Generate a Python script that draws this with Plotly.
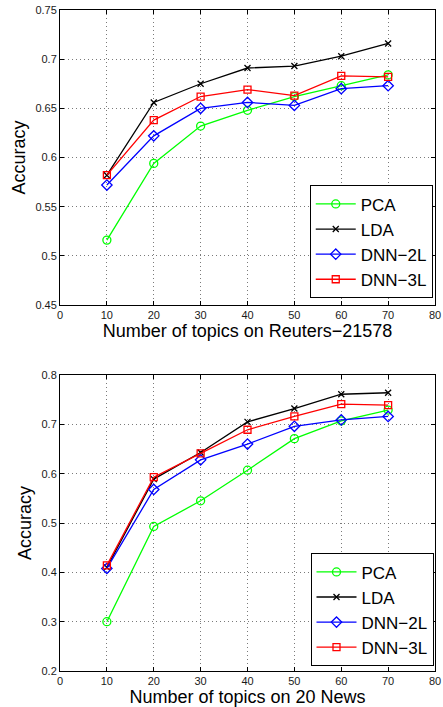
import plotly.graph_objects as go
from plotly.subplots import make_subplots

topics = [10, 20, 30, 40, 50, 60, 70]

# Reuters-21578
reu_pca = [0.516, 0.594, 0.632, 0.648, 0.662, 0.673, 0.684]
reu_lda = [0.582, 0.656, 0.675, 0.691, 0.693, 0.703, 0.716]
reu_dnn2 = [0.572, 0.622, 0.650, 0.656, 0.653, 0.670, 0.673]
reu_dnn3 = [0.582, 0.638, 0.662, 0.669, 0.663, 0.683, 0.682]

# 20 News
news_pca = [0.300, 0.493, 0.545, 0.607, 0.671, 0.707, 0.729]
news_lda = [0.410, 0.589, 0.643, 0.705, 0.732, 0.761, 0.764]
news_dnn2 = [0.408, 0.568, 0.628, 0.660, 0.696, 0.709, 0.716]
news_dnn3 = [0.414, 0.593, 0.641, 0.689, 0.716, 0.741, 0.739]

names = ["PCA", "LDA", "DNN\u22122L", "DNN\u22123L"]
colors = ["#00ff00", "#000000", "#0000ff", "#ff0000"]
symbols = ["circle-open", "x-thin-open", "diamond-open", "square-open"]
sizes = [8, 6, 8, 7]

fig = make_subplots(rows=2, cols=1, vertical_spacing=0.1059)

for row, series, leg in [(1, [reu_pca, reu_lda, reu_dnn2, reu_dnn3], "legend"),
                         (2, [news_pca, news_lda, news_dnn2, news_dnn3], "legend2")]:
    for name, col, sym, sz, ys in zip(names, colors, symbols, sizes, series):
        fig.add_trace(go.Scatter(
            x=topics, y=ys, name=name, mode="lines+markers",
            line=dict(color=col, width=1.3),
            marker=dict(symbol=sym, size=sz, color=col, line=dict(color=col, width=1.3)),
            legend=leg,
        ), row=row, col=1)

font_family = "Liberation Sans, Arial"
axis_common = dict(
    showline=True, linecolor="black", linewidth=1, mirror="ticks",
    ticks="inside", ticklen=4, tickcolor="black",
    showgrid=True, gridcolor="#7a7a7a", griddash="1px,3px", gridwidth=1,
    zeroline=False, tickfont=dict(family=font_family, size=11, color="#1a1a1a"),
    ticklabeloverflow="allow", automargin=False,
)

fig.update_xaxes(range=[0, 80], dtick=10, **axis_common)
fig.update_yaxes(**axis_common)
fig.update_yaxes(range=[0.45, 0.75], dtick=0.05, tickformat=".2~f", row=1, col=1)
fig.update_yaxes(range=[0.2, 0.8], dtick=0.1, tickformat=".1f", row=2, col=1)

title_font = dict(family=font_family, size=18, color="black")
fig.update_xaxes(title=dict(text="Number of topics on Reuters\u221221578", font=title_font, standoff=1), row=1, col=1)
fig.update_xaxes(title=dict(text="Number of topics on 20 News", font=title_font, standoff=1), row=2, col=1)
fig.update_yaxes(title=dict(text="Accuracy", font=title_font, standoff=5), row=1, col=1)
fig.update_yaxes(title=dict(text="Accuracy", font=title_font, standoff=5), row=2, col=1)

legend_style = dict(xanchor="right", yanchor="bottom",
                    bordercolor="black", borderwidth=1, bgcolor="white",
                    font=dict(family=font_family, size=17, color="black"),
                    tracegroupgap=0, itemwidth=40)

fig.update_layout(
    width=443, height=707,
    margin=dict(l=60, r=8, t=10, b=36, autoexpand=False),
    plot_bgcolor="white", paper_bgcolor="white",
    yaxis=dict(domain=[0.5537, 1.0]),
    yaxis2=dict(domain=[0.0, 0.4478]),
    legend=dict(x=0.994, y=0.5537 + 0.01, **legend_style),
    legend2=dict(x=0.996, y=0.007, **legend_style),
)

fig.write_html("out.html",
               config={"displayModeBar": False},
               post_script="document.body.style.margin='0';document.body.style.overflow='hidden';")
